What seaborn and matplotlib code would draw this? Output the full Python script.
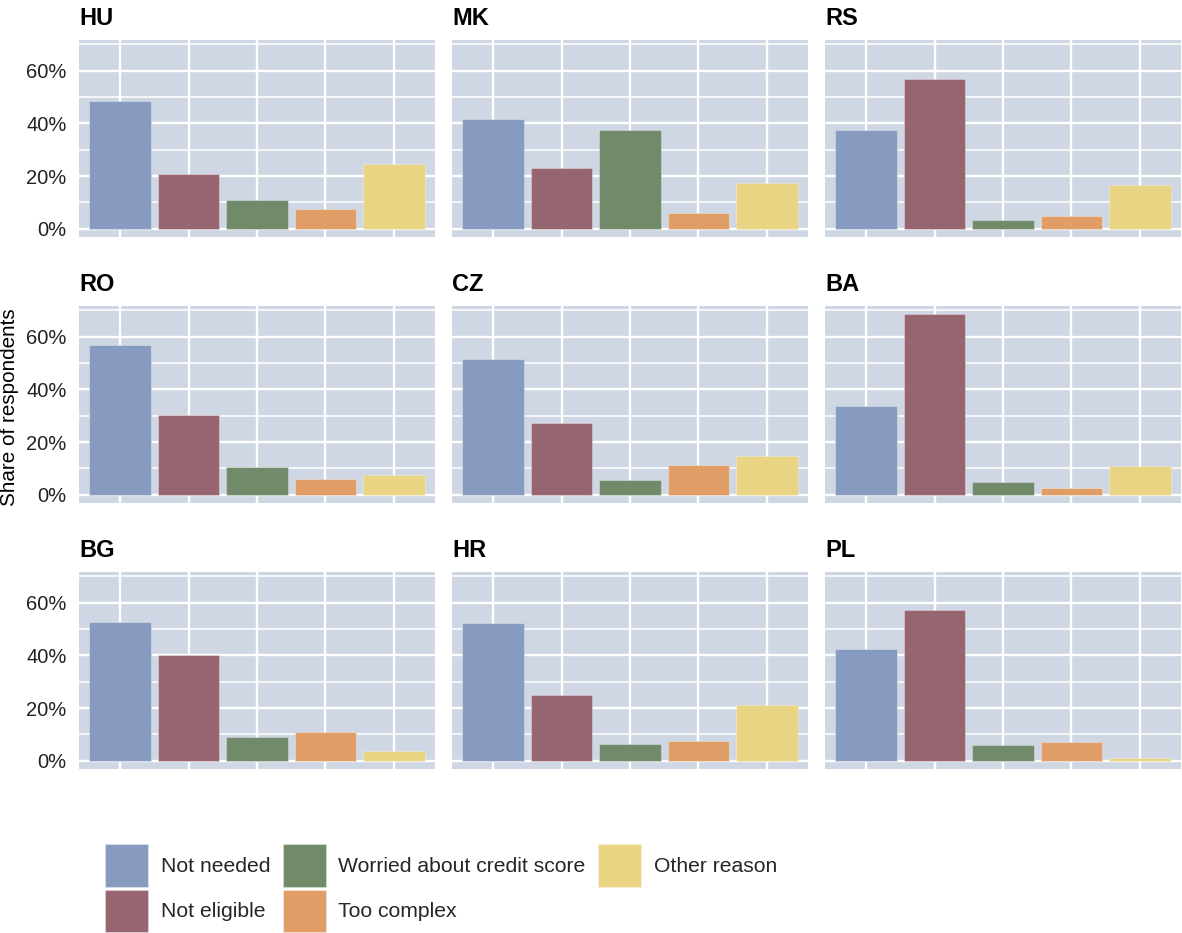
import matplotlib
matplotlib.use("Agg")
import matplotlib.pyplot as plt
from matplotlib.patches import Patch
from matplotlib.ticker import FixedLocator, FuncFormatter
import numpy as np
import pandas as pd
import seaborn as sns

# Reasons for not applying, per country (share of respondents, %)
countries = ["HU", "MK", "RS", "RO", "CZ", "BA", "BG", "HR", "PL"]
reasons = ["Not needed", "Not eligible", "Worried about credit score",
           "Too complex", "Other reason"]

not_needed = [48.7, 41.6, 37.4, 56.9, 51.4, 33.7, 52.7, 52.2, 42.4]
not_eligible = [20.7, 23.0, 56.9, 30.5, 27.1, 68.8, 40.0, 25.0, 57.2]
worried_credit = [11.1, 37.4, 3.4, 10.7, 5.8, 4.7, 8.9, 6.4, 5.9]
too_complex = [7.7, 6.2, 4.8, 6.2, 11.5, 2.7, 10.9, 7.5, 7.2]
other_reason = [24.8, 17.4, 16.6, 7.7, 14.6, 10.8, 3.6, 21.2, 1.2]

palette = ["#869BBF", "#976570", "#708A6A", "#E09E66", "#E9D483"]
panel_bg = "#CED7E3"

series = [not_needed, not_eligible, worried_credit, too_complex, other_reason]
rows = []
for ci, c in enumerate(countries):
    for ri, r in enumerate(reasons):
        rows.append({"country": c, "reason": r, "share": series[ri][ci]})
df = pd.DataFrame(rows)
df["reason"] = pd.Categorical(df["reason"], categories=reasons, ordered=True)

sns.set_theme(style="white")
plt.rcParams["font.family"] = ["Liberation Sans", "DejaVu Sans"]

W, H = 1182, 933
fig = plt.figure(figsize=(W / 100, H / 100), dpi=100)

lefts = [79, 452, 825]
tops = [40, 306, 572]
pw, ph = 356, 197

for i, c in enumerate(countries):
    r, col = divmod(i, 3)
    ax = fig.add_axes([lefts[col] / W, (H - tops[r] - ph) / H, pw / W, ph / H])
    ax.set_facecolor(panel_bg)
    sub = df[df["country"] == c]
    sns.barplot(data=sub, x="reason", y="share", hue="reason",
                hue_order=reasons, order=reasons, palette=palette,
                width=0.9, legend=False, ax=ax, errorbar=None,
                edgecolor=(1, 1, 1, 0.3), linewidth=0.8, saturation=1)
    ax.set_xlim(-0.6, 4.6)
    ax.set_ylim(-3.1, 71.7)
    ax.yaxis.set_major_locator(FixedLocator([0, 20, 40, 60]))
    ax.yaxis.set_minor_locator(FixedLocator([10, 30, 50, 70]))
    ax.yaxis.set_major_formatter(FuncFormatter(lambda v, p: f"{v:.0f}%"))
    ax.set_axisbelow(True)
    ax.grid(which="major", axis="both", color="white", linewidth=1.7)
    ax.grid(which="minor", axis="y", color="white", linewidth=1.1)
    for s in ax.spines.values():
        s.set_visible(False)
    ax.tick_params(axis="both", which="both", length=0)
    ax.tick_params(axis="y", labelsize=14.5, pad=9.0, labelcolor="#222222",
                   labelleft=(col == 0))
    ax.set_xticklabels([])
    ax.set_xlabel("")
    ax.set_ylabel("")
    ax.set_title(c, loc="left", fontsize=17, fontweight="bold", pad=10.5,
                 color="black")

fig.text(10 / W, 1 - 407 / H, "Share of respondents", rotation=90,
         ha="center", va="center", fontsize=14.9, color="black")

handles = [Patch(facecolor=p, edgecolor=(1, 1, 1, 0.3), linewidth=0.8)
           for p in palette]
fig.legend(handles, reasons, ncol=3, loc="upper left",
           bbox_to_anchor=(105 / W, 1 - 844 / H), frameon=False,
           borderpad=0, borderaxespad=0, fontsize=15.2,
           handlelength=2.03, handleheight=2.74, handletextpad=0.6,
           columnspacing=0.6, labelspacing=0.14)

fig.savefig("out.png", dpi=100)
